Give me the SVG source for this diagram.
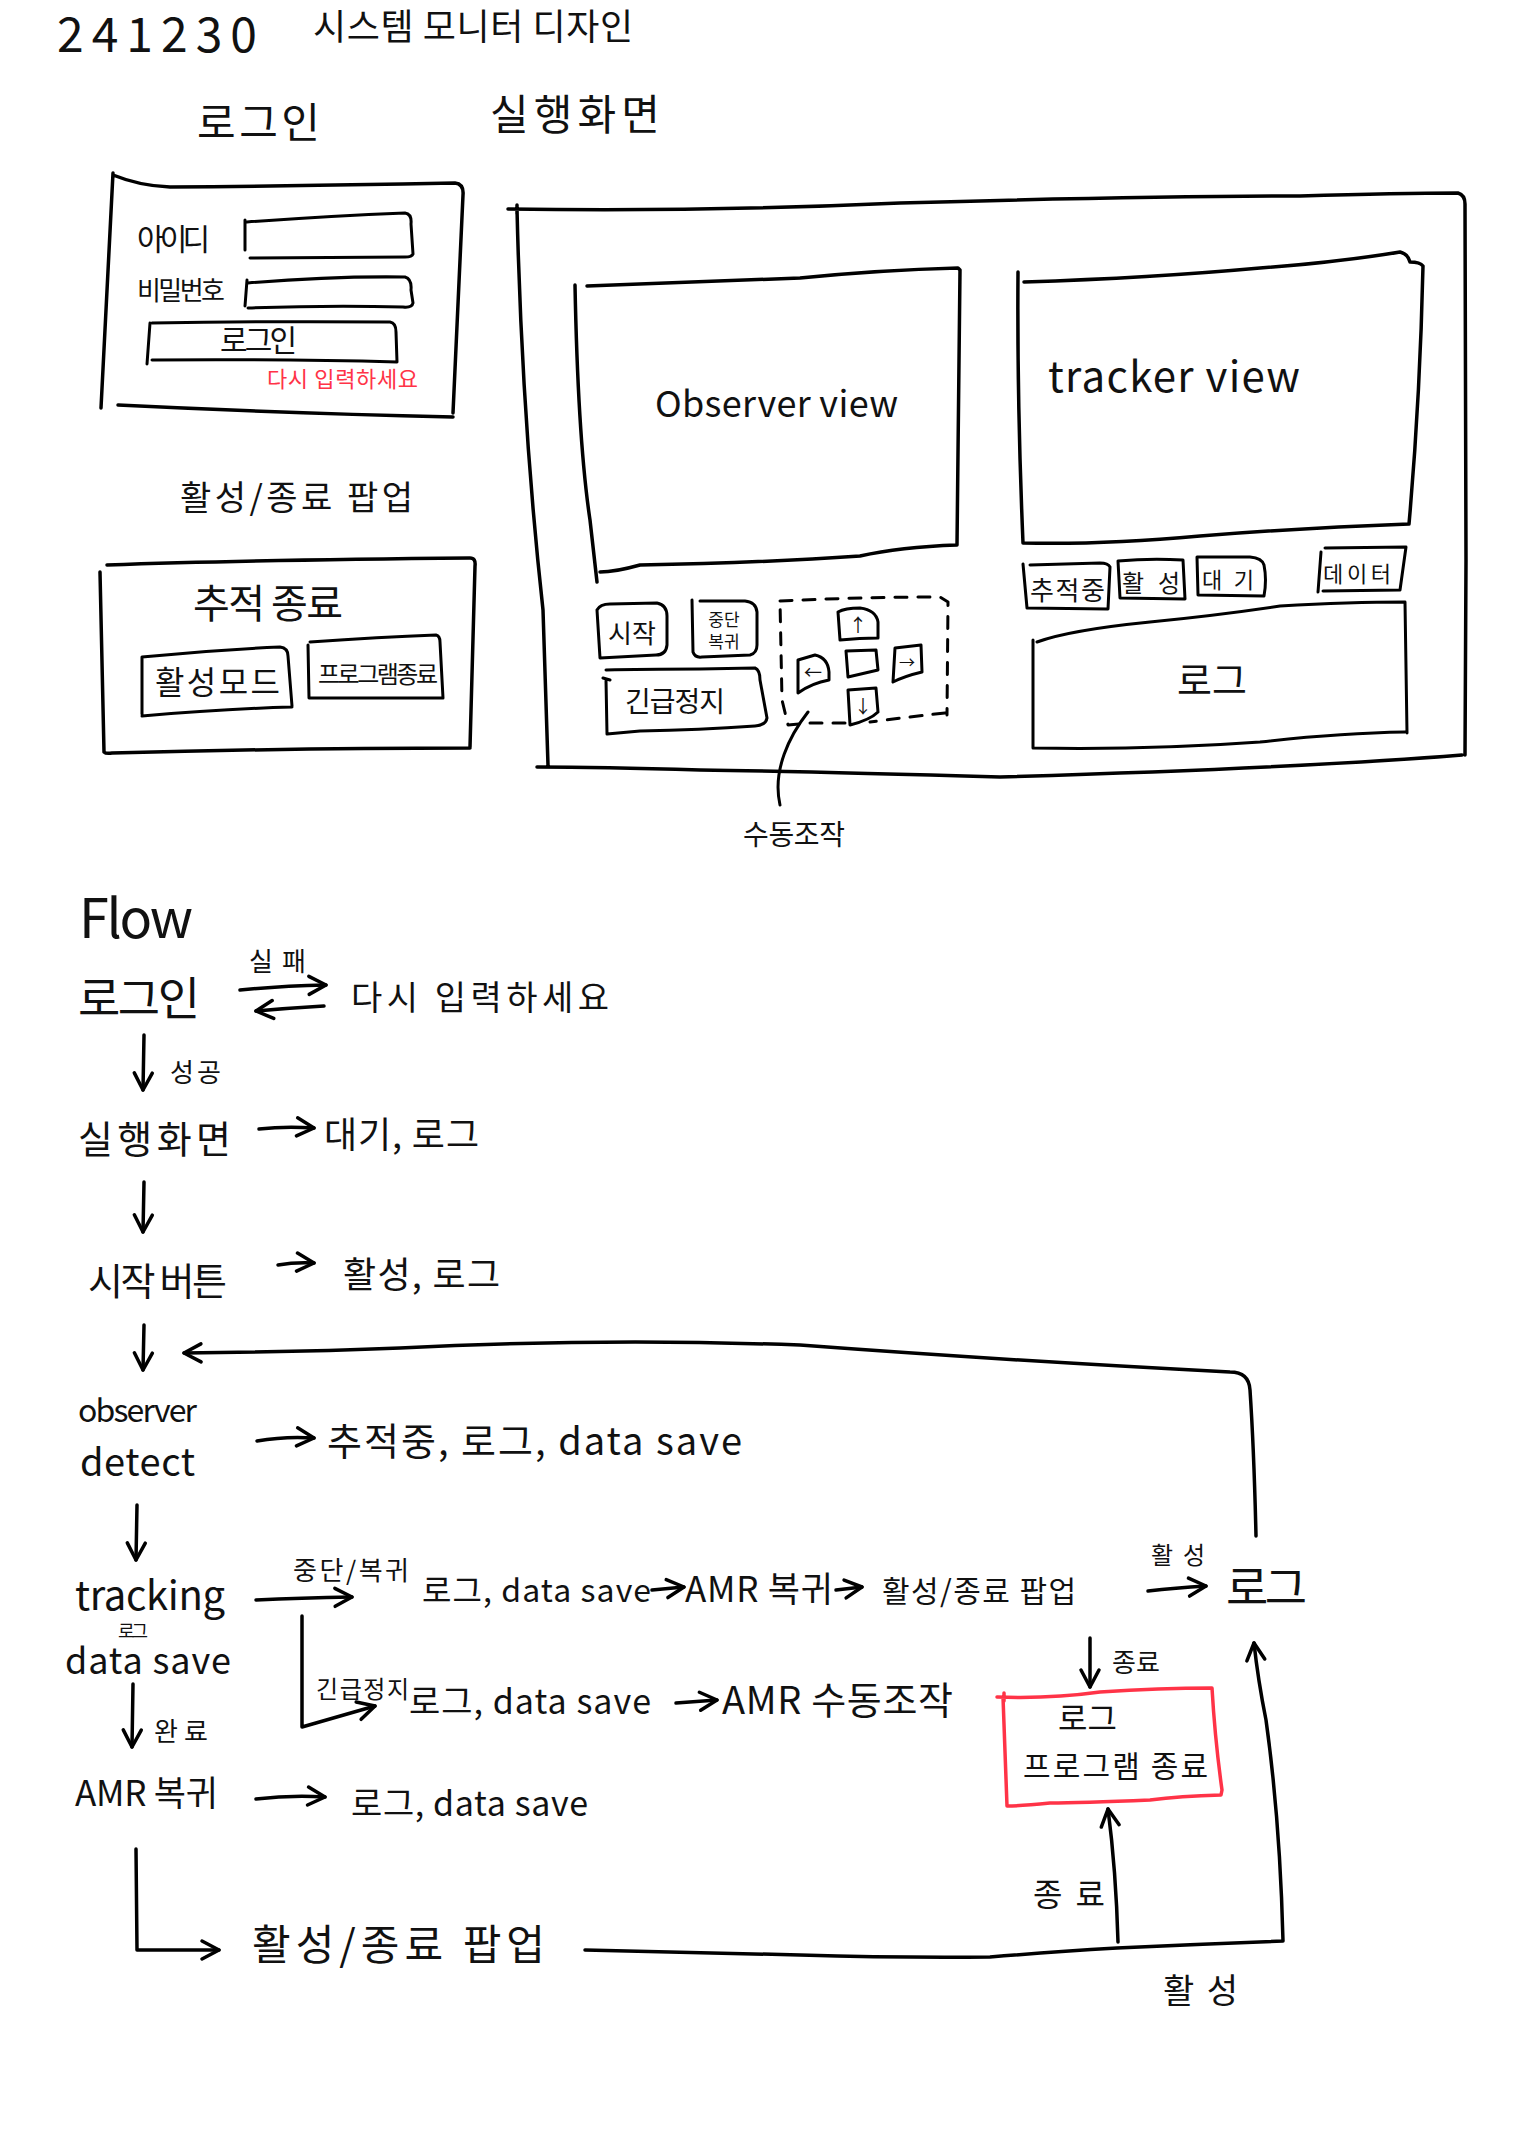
<svg xmlns="http://www.w3.org/2000/svg" width="1536" height="2136" viewBox="0 0 1536 2136">
  <defs>
    <style>
      .ln { fill: none; stroke: #000; stroke-width: 3.5; stroke-linecap: round; stroke-linejoin: round; }
      .th { stroke-width: 3; }
      .dash { stroke-dasharray: 12 11; }
      .red { fill: none; stroke: #ff3347; stroke-width: 3.5; stroke-linecap: round; stroke-linejoin: round; }
      .t { font-family: "Noto Sans CJK KR", "Noto Sans", sans-serif; fill: #111; }
      .tr { font-family: "Noto Sans CJK KR", "Noto Sans", sans-serif; fill: #ff3347; }
      .c { text-anchor: middle; }
    </style>
    <marker id="ah" viewBox="0 0 24 24" refX="21" refY="12" markerWidth="24" markerHeight="24" markerUnits="userSpaceOnUse" orient="auto">
      <path d="M4,3 L21,12 L4,21" fill="none" stroke="#000" stroke-width="3.5" stroke-linecap="round" stroke-linejoin="round"/>
    </marker>
  </defs>
  <rect width="1536" height="2136" fill="#fff"/>

  <!-- heading -->
  <g id="heading">
    <text class="t" x="57" y="52" font-size="48" textLength="200">241230</text>
    <text class="t" x="313" y="40" font-size="36" textLength="320">시스템 모니터 디자인</text>
  </g>

  <!-- login screen -->
  <g id="login-title"><text class="t" x="197" y="138" font-size="42" textLength="123">로그인</text></g>
  <g id="login-panel">
    <path class="ln" d="M113,173 L101,408 M113,175 Q140,186 170,187 Q300,186 455,183 Q464,184 463,195 L453,413 M118,405 Q280,413 453,417"/>
    <text class="t" x="137" y="250" font-size="30" textLength="73">아이디</text>
    <path class="ln th" d="M245,220 L245,250 M247,222 Q330,216 405,213 Q412,214 411,224 L413,254 Q412,257 405,257 L250,258"/>
    <text class="t" x="137" y="300" font-size="26" textLength="88">비밀번호</text>
    <path class="ln th" d="M247,280 L245,306 M248,283 Q330,276 405,277 Q412,279 411,290 L413,303 Q412,308 403,307 Q330,305 248,308"/>
    <path class="ln th" d="M150,323 L147,364 M152,323 Q270,321 390,322 Q396,323 396,332 L397,362 Q280,359 152,360"/>
    <text class="t" x="220" y="351" font-size="30" textLength="77">로그인</text>
    <text class="tr" x="267" y="387" font-size="22" textLength="151">다시 입력하세요</text>
  </g>

  <!-- activate / quit popup -->
  <g id="popup-title"><text class="t" x="180" y="510" font-size="34" textLength="233">활성/종료 팝업</text></g>
  <g id="popup-panel">
    <path class="ln" d="M107,565 Q250,560 470,558 Q476,558 475,566 L470,747 M100,572 L104,752 Q106,754 112,753 Q300,748 470,748"/>
    <text class="t" x="193" y="618" font-size="40" textLength="150">추적 종료</text>
    <path class="ln th" d="M142,657 L142,714 M142,657 Q210,650 280,647 Q288,648 288,656 L292,706 M142,716 Q220,709 292,707"/>
    <text class="t" x="155" y="694" font-size="32" textLength="125">활성모드</text>
    <path class="ln th" d="M308,645 L309,698 M310,642 Q380,637 436,635 Q440,636 440,642 L443,698 M310,698 L443,698"/>
    <text class="t" x="318" y="683" font-size="24" textLength="120">프로그램종료</text>
  </g>

  <!-- execution screen -->
  <g id="exec-title"><text class="t" x="490" y="130" font-size="42" textLength="170">실행화면</text></g>
  <g id="exec-panel">
    <path class="ln" d="M508,209 Q700,212 900,203 Q1150,196 1300,196 Q1400,193 1458,193 Q1465,195 1465,204 L1466,560 L1465,755 M1462,755 Q1300,768 1000,777 Q800,771 700,770 Q600,767 537,767 M517,205 L517,214 M517,209 Q522,420 543,610 L548,765"/>
  </g>
  <g id="observer-view">
    <path class="ln" d="M575,285 Q578,440 590,520 L597,582 M587,286 Q700,282 800,278 Q880,270 958,268 L960,270 Q958,400 957,545 Q900,547 860,556 Q760,563 640,565 Q615,572 600,572"/>
    <text class="t" x="655" y="417" font-size="36" textLength="243">Observer view</text>
  </g>
  <g id="tracker-view">
    <path class="ln" d="M1018,272 Q1017,400 1023,543 M1024,282 Q1150,278 1260,268 Q1340,262 1400,252 Q1408,254 1410,262 Q1420,262 1423,266 Q1420,400 1409,524 Q1300,528 1200,536 Q1100,545 1023,543"/>
    <text class="t" x="1048" y="392" font-size="42" textLength="252">tracker view</text>
  </g>
  <g id="btn-start">
    <path class="ln th" d="M597,610 Q600,604 610,604 L657,603 Q667,605 667,616 L667,645 Q666,655 656,655 L600,658 Z"/>
    <text class="t c" x="632" y="643" font-size="26" textLength="48">시작</text>
  </g>
  <g id="btn-pause">
    <path class="ln th" d="M692,600 L693,652 Q695,658 702,657 L750,655 Q757,653 757,645 L757,612 Q756,602 745,601 L700,601"/>
    <text class="t c" x="724" y="626" font-size="17">중단</text>
    <text class="t c" x="724" y="648" font-size="17">복귀</text>
  </g>
  <g id="btn-estop">
    <path class="ln th" d="M603,678 L610,680 M606,670 Q640,669 700,669 L755,668 Q760,670 760,680 L767,718 Q766,725 755,726 Q700,730 640,731 L607,734 L606,680"/>
    <text class="t" x="625" y="712" font-size="28" textLength="100">긴급정지</text>
  </g>
  <g id="manual-pad">
    <path class="ln th dash" d="M780,601 Q860,597 940,597 L948,602 L947,715 M945,713 Q900,718 870,722 M845,723 L810,723 L788,725 L782,700 L780,601"/>
    <path class="ln th" d="M838,612 Q845,608 860,608 Q876,610 878,622 L878,638 Q860,638 840,640 Z"/>
    <text class="t c" x="858" y="632" font-size="18">↑</text>
    <path class="ln th" d="M846,651 L876,650 L878,670 L848,677 Z"/>
    <path class="ln th" d="M798,660 L815,655 Q828,658 829,672 L829,680 Q812,683 798,693 Z"/>
    <text class="t c" x="813" y="679" font-size="18">←</text>
    <path class="ln th" d="M895,648 L921,645 L922,672 Q905,676 893,682 Z"/>
    <text class="t c" x="907" y="668" font-size="16">→</text>
    <path class="ln th" d="M848,690 L876,688 L878,712 Q870,720 850,725 Z"/>
    <text class="t c" x="863" y="713" font-size="18">↓</text>
    <path class="ln th" d="M808,712 C790,735 772,770 780,805"/>
    <text class="t" x="743" y="845" font-size="28" textLength="102">수동조작</text>
  </g>
  <g id="status-tracking">
    <path class="ln th" d="M1023,564 L1027,608 L1108,609 L1110,567 Q1108,563 1100,563 L1030,565"/>
    <text class="t" x="1030" y="600" font-size="26" textLength="75">추적중</text>
  </g>
  <g id="status-active">
    <path class="ln th" d="M1118,561 L1120,598 L1185,599 L1183,560 Q1150,558 1118,561 Z"/>
    <text class="t" x="1122" y="592" font-size="24" textLength="58">활성</text>
  </g>
  <g id="status-idle">
    <path class="ln th" d="M1197,557 L1198,595 L1264,596 Q1267,580 1264,565 Q1262,558 1250,557 Z"/>
    <text class="t" x="1202" y="588" font-size="22" textLength="52">대기</text>
  </g>
  <g id="status-data">
    <path class="ln th" d="M1321,552 L1318,592 M1325,548 L1406,547 L1400,590 L1323,591"/>
    <text class="t" x="1323" y="582" font-size="22" textLength="68">데이터</text>
  </g>
  <g id="log-panel">
    <path class="ln th" d="M1033,640 L1033,748 M1037,642 Q1070,630 1150,622 Q1220,615 1280,606 Q1350,602 1405,602 L1407,733 M1033,748 Q1150,750 1260,742 Q1340,733 1405,732"/>
    <text class="t" x="1177" y="694" font-size="38" textLength="70">로그</text>
  </g>

  <!-- flow -->
  <g id="flow-title"><text class="t" x="79" y="938" font-size="54" textLength="114">Flow</text></g>
  <g id="f-login"><text class="t" x="78" y="1015" font-size="46" textLength="122">로그인</text></g>
  <g id="f-retry"><text class="t" x="351" y="1010" font-size="34" textLength="258">다시 입력하세요</text></g>
  <g id="f-exec"><text class="t" x="78" y="1153" font-size="38" textLength="153">실행화면</text></g>
  <g id="f-exec-out"><text class="t" x="324" y="1148" font-size="36" textLength="155">대기, 로그</text></g>
  <g id="f-start"><text class="t" x="88" y="1295" font-size="38" textLength="139">시작 버튼</text></g>
  <g id="f-start-out"><text class="t" x="343" y="1288" font-size="36" textLength="157">활성, 로그</text></g>
  <g id="f-detect">
    <text class="t" x="78" y="1422" font-size="32" textLength="119">observer</text>
    <text class="t" x="80" y="1476" font-size="38" textLength="115">detect</text>
  </g>
  <g id="f-detect-out"><text class="t" x="327" y="1455" font-size="38" textLength="415">추적중, 로그, data save</text></g>
  <g id="f-tracking">
    <text class="t" x="75" y="1610" font-size="40" textLength="150">tracking</text>
    <text class="t" x="118" y="1638" font-size="18" textLength="30">로그</text>
    <text class="t" x="65" y="1674" font-size="36" textLength="166">data save</text>
  </g>
  <g id="f-pause-log"><text class="t" x="422" y="1602" font-size="32" textLength="229">로그, data save</text></g>
  <g id="f-pause-amr"><text class="t" x="685" y="1602" font-size="35" textLength="148">AMR 복귀</text></g>
  <g id="f-pause-popup"><text class="t" x="882" y="1602" font-size="30" textLength="194">활성/종료 팝업</text></g>
  <g id="f-popup-log"><text class="t" x="1226" y="1604" font-size="46" textLength="81">로그</text></g>
  <g id="f-estop-log"><text class="t" x="409" y="1714" font-size="34" textLength="242">로그, data save</text></g>
  <g id="f-estop-amr"><text class="t" x="722" y="1714" font-size="38" textLength="231">AMR 수동조작</text></g>
  <g id="f-return"><text class="t" x="75" y="1806" font-size="35" textLength="143">AMR 복귀</text></g>
  <g id="f-return-out"><text class="t" x="351" y="1816" font-size="34" textLength="237">로그, data save</text></g>
  <g id="f-popup"><text class="t" x="252" y="1960" font-size="42" textLength="293">활성/종료 팝업</text></g>
  <g id="f-quit">
    <path class="red" d="M1004,1693 L1004,1701 M997,1697 Q1050,1699 1100,1692 Q1160,1688 1212,1688 Q1215,1740 1222,1790 L1221,1795 Q1180,1796 1150,1800 Q1080,1803 1050,1803 Q1020,1806 1007,1806 L1003,1697"/>
    <text class="t" x="1058" y="1730" font-size="32" textLength="59">로그</text>
    <text class="t" x="1023" y="1777" font-size="30" textLength="185">프로그램 종료</text>
  </g>

  <!-- connectors and their labels -->
  <g id="connectors">
    <path class="ln" marker-end="url(#ah)" d="M240,990 Q280,986 326,985"/>
    <path class="ln" marker-end="url(#ah)" d="M324,1006 Q290,1008 256,1011"/>
    <text class="t" x="249" y="971" font-size="26" textLength="57">실패</text>

    <path class="ln" marker-end="url(#ah)" d="M144,1035 L143,1090"/>
    <text class="t" x="170" y="1082" font-size="26" textLength="51">성공</text>
    <path class="ln" marker-end="url(#ah)" d="M259,1129 Q285,1126 314,1128"/>

    <path class="ln" marker-end="url(#ah)" d="M144,1182 L143,1232"/>
    <path class="ln" marker-end="url(#ah)" d="M278,1265 Q295,1262 314,1263"/>

    <path class="ln" marker-end="url(#ah)" d="M144,1325 L143,1370"/>
    <path class="ln" marker-end="url(#ah)" d="M1256,1536 Q1254,1450 1250,1390 Q1249,1372 1230,1372 Q1000,1360 800,1345 Q600,1338 400,1348 Q300,1352 184,1353"/>
    <path class="ln" marker-end="url(#ah)" d="M257,1441 Q285,1436 314,1438"/>

    <path class="ln" marker-end="url(#ah)" d="M137,1505 L136,1560"/>
    <path class="ln" marker-end="url(#ah)" d="M256,1600 Q300,1598 352,1597"/>
    <text class="t" x="293" y="1580" font-size="26" textLength="116">중단/복귀</text>
    <path class="ln" marker-end="url(#ah)" d="M652,1590 L684,1587"/>
    <path class="ln" marker-end="url(#ah)" d="M836,1590 L862,1587"/>
    <path class="ln" marker-end="url(#ah)" d="M1148,1591 Q1175,1588 1206,1586"/>
    <text class="t" x="1151" y="1564" font-size="24" textLength="54">활성</text>

    <path class="ln" marker-end="url(#ah)" d="M302,1616 L302,1727 Q340,1716 375,1706"/>
    <text class="t" x="316" y="1698" font-size="24" textLength="93">긴급정지</text>
    <path class="ln" marker-end="url(#ah)" d="M676,1703 L717,1700"/>

    <path class="ln" marker-end="url(#ah)" d="M133,1684 L132,1747"/>
    <text class="t" x="154" y="1741" font-size="26" textLength="54">완료</text>
    <path class="ln" marker-end="url(#ah)" d="M256,1799 Q290,1795 325,1797"/>

    <path class="ln" marker-end="url(#ah)" d="M136,1849 L137,1950 L219,1950"/>
    <path class="ln" marker-end="url(#ah)" d="M585,1950 Q700,1953 800,1955 Q900,1958 990,1957 Q1050,1952 1117,1948 Q1200,1944 1283,1941 Q1280,1820 1266,1720 Q1258,1680 1254,1643"/>
    <path class="ln" marker-end="url(#ah)" d="M1118,1942 Q1116,1870 1108,1809"/>
    <text class="t" x="1033" y="1906" font-size="32" textLength="72">종료</text>
    <text class="t" x="1163" y="2003" font-size="34" textLength="75">활성</text>
    <path class="ln" marker-end="url(#ah)" d="M1090,1638 L1090,1687"/>
    <text class="t" x="1112" y="1672" font-size="26" textLength="48">종료</text>
  </g>
</svg>
